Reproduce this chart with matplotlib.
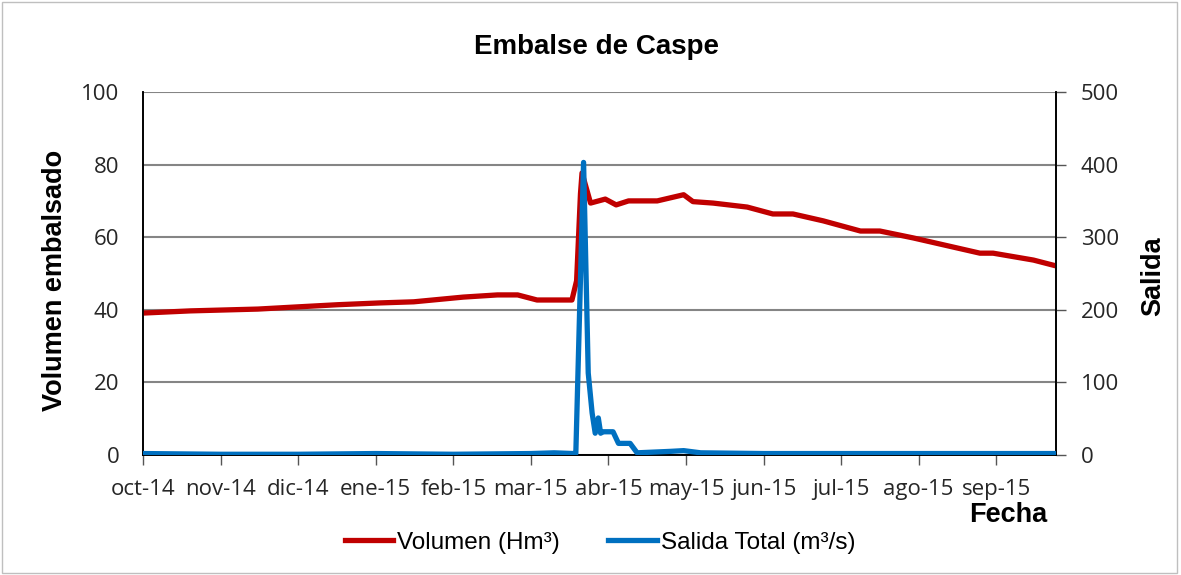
import matplotlib.pyplot as plt
from matplotlib.patches import Rectangle

plt.rcParams['font.family'] = ['Liberation Sans', 'DejaVu Sans']

# month labels (x axis in months from oct-14)
months = ['oct-14', 'nov-14', 'dic-14', 'ene-15', 'feb-15', 'mar-15',
          'abr-15', 'may-15', 'jun-15', 'jul-15', 'ago-15', 'sep-15']

# Volumen (Hm3)
vol_x = [0.0, 0.61, 1.48, 1.99, 2.51, 3.06, 3.49, 4.13, 4.57, 4.83, 5.08,
         5.53, 5.59, 5.64, 5.66, 5.77, 5.96, 6.10, 6.26, 6.63, 6.97, 7.09,
         7.35, 7.79, 8.12, 8.38, 8.77, 9.25, 9.50, 9.93, 10.79, 10.96,
         11.48, 11.77]
vol_y = [39.1, 39.7, 40.2, 40.8, 41.4, 41.9, 42.2, 43.5, 44.1, 44.1, 42.7,
         42.7, 48.0, 72.0, 77.7, 69.4, 70.5, 68.9, 70.0, 70.0, 71.7, 69.8,
         69.4, 68.3, 66.4, 66.4, 64.5, 61.7, 61.7, 59.8, 55.6, 55.6,
         53.7, 52.1]

# Salida total (m3/s)
sal_x = [0.0, 1.0, 2.0, 3.0, 4.0, 5.0, 5.3, 5.55, 5.58, 5.68, 5.74, 5.79,
         5.83, 5.87, 5.90, 5.93, 6.06, 6.13, 6.28, 6.37, 6.80, 6.97, 7.19,
         8.0, 9.0, 10.0, 11.0, 11.77]
sal_y = [2, 1, 1, 2, 1, 2, 3, 2, 2, 403, 113, 58,
         30, 51, 30, 32, 32, 16, 16, 3, 5, 6, 3,
         2, 2, 2, 2, 2]

red = '#C00000'
blue = '#0070C0'
tickcolor = '#262626'

fig = plt.figure(figsize=(11.81, 5.75), dpi=100)
fig.patches.append(Rectangle((0.002, 0.004), 0.995, 0.992, transform=fig.transFigure,
                             fill=False, edgecolor='#BFBFBF', linewidth=1))
ax = fig.add_axes([0.1211, 0.2087, 0.7730, 0.6313])
ax2 = ax.twinx()

l1, = ax.plot(vol_x, vol_y, color=red, linewidth=3.8, label='Volumen (Hm³)', zorder=3)
l2, = ax2.plot(sal_x, sal_y, color=blue, linewidth=3.8, label='Salida Total (m³/s)', zorder=3)

ax.set_xlim(0, 11.77)
ax.set_ylim(0, 100)
ax2.set_ylim(0, 500)
ax.set_yticks(range(0, 101, 20))
ax2.set_yticks(range(0, 501, 100))
ax.set_xticks(range(12))
ax.set_xticklabels(months)
ax.yaxis.grid(True, color='#858585', linewidth=1.5)
ax.set_axisbelow(True)

for a in (ax, ax2):
    a.spines['top'].set_visible(False)
    for s in ('left', 'right', 'bottom'):
        a.spines[s].set_color('black')
        a.spines[s].set_linewidth(1.2)
    for lab in a.get_xticklabels() + a.get_yticklabels():
        lab.set_fontfamily('Open Sans')
ax.tick_params(axis='y', labelsize=16, length=0, pad=17, labelcolor=tickcolor)
ax2.tick_params(axis='y', labelsize=16, length=7, width=1, color='#555555', pad=11,
                labelcolor=tickcolor)
ax.tick_params(axis='x', labelsize=16, length=7, width=1, color='#555555', pad=10,
               labelcolor=tickcolor)

fig.text(0.505, 0.918, 'Embalse de Caspe', ha='center', va='center',
         fontsize=20, fontweight='bold')
ax.set_ylabel('Volumen embalsado', fontsize=19.5, fontweight='bold')
ax.yaxis.set_label_coords(-0.082, 0.48)
ax2.set_ylabel('Salida', fontsize=19.5, fontweight='bold')
ax2.yaxis.set_label_coords(1.092, 0.493)
fig.text(0.821, 0.104, 'Fecha', ha='left', va='center', fontsize=19.5, fontweight='bold')

fig.legend([l1, l2], ['Volumen (Hm³)', 'Salida Total (m³/s)'], loc='center',
           bbox_to_anchor=(0.508, 0.056), ncol=2, frameon=False, fontsize=17.5,
           handlelength=2.0, columnspacing=2.0, handletextpad=0.15)

fig.savefig('out.png', dpi=100)
